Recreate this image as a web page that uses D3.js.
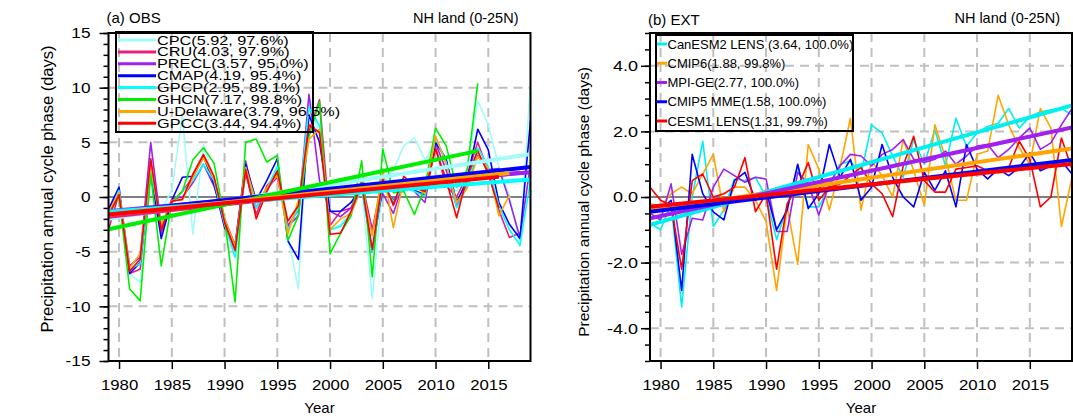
<!doctype html>
<html lang="en">
<head>
<meta charset="utf-8">
<script src="https://d3js.org/d3.v7.min.js"></script>
<style>
  body { margin: 0; background: #fff; }
  svg text { font-family: "Liberation Sans", Arial, sans-serif; fill: #000; }
</style>
</head>
<body>
<div id="chart"></div>
<script>
// ---------- (a) OBS : annual values from 1979 ----------
const obsNames  = ["CPC", "CRU", "PRECL", "CMAP", "GPCP", "GHCN", "U-Delaware", "GPCC"];
const obsColors = ["#a0fcfc", "#ea1f7d", "#a020f0", "#0000ff", "#00ffff", "#00ee00", "#ffa500", "#ff0000"];
const obsChange = [5.92, 4.03, 3.57, 4.19, 2.95, 7.17, 3.79, 3.44];
const obsSig    = [97.6, 97.9, 95.0, 95.4, 89.1, 98.8, 96.5, 94.4];
const obsTrendStart = [-2.0, -1.8, -1.3, -1.45, -1.35, -2.95, -1.6, -1.6];

const cpc   = [-1.0, 0.5, -7.0, -7.8, 2.0, -1.2, 0.6, 7.5, -3.4, 4.8, 1.5, -1.8, -5.5, 2.3, -1.7, 0.3, 2.5, -3.6, -8.4, 9.3,
               5.5, -3.0, -2.5, -1.3, 1.0, -9.3, 1.3, 2.5, 4.7, 5.4, 3.4, 5.0, 1.5, 0.5, 2.5, 8.8, 6.6, 2.8, 0.1, -4.5, 10.5];
const cru   = [-3.0, 0.3, -7.0, -6.6, 3.3, -3.3, -0.4, 0.5, 1.8, 3.7, 1.6, -2.1, -4.6, 2.2, -1.6, 1.0, 2.2, -2.6, -1.2, 6.0,
               8.9, -2.6, -1.3, -1.0, 1.5, -3.0, 1.8, -0.8, 1.5, 1.2, 0.6, 4.5, 1.0, 0.0, 2.0, 5.0, 2.3, -1.2, -3.7, -3.3];
const precl = [-1.2, 0.5, -6.3, -5.5, 5.0, -2.8, -0.2, 0.0, 1.3, 3.0, 1.0, -2.0, -4.4, 3.3, -1.0, 0.8, 1.8, -2.7, -1.7, 9.4,
               1.5, -1.3, -1.8, -1.0, 0.8, -3.0, 0.3, -1.5, 1.4, 0.5, -0.5, 4.9, 2.5, -0.9, 1.2, 3.8, 2.5, 2.6, -0.3, -3.7, 3.0];
const cmap  = [-1.1, 0.9, -7.0, -6.0, 2.2, -3.8, -0.3, 1.8, 1.9, 3.7, 1.2, -2.8, -4.5, 3.0, -0.3, 1.5, 3.5, -4.0, -5.7, 7.5,
               5.0, -1.3, -1.3, -0.5, 1.0, -5.0, 1.0, -0.3, 0.9, 0.6, 0.2, 5.0, 3.5, -0.5, 1.6, 6.2, 4.3, -0.5, -2.5, -3.8, 7.0];
const gpcp  = [-1.6, 0.6, -6.6, -6.1, 2.3, -2.5, -0.5, 0.5, 1.5, 3.0, 1.5, -2.5, -5.5, 2.7, -1.0, 0.7, 2.8, -3.0, -1.0, 8.2,
               6.5, -3.0, -2.7, -1.5, 0.8, -5.0, 1.2, -0.4, 1.0, 0.5, 0.1, 5.5, 3.2, -1.0, 1.0, 4.5, 2.8, -0.8, -3.0, -4.4, 1.5];
const ghcn  = [-1.5, 0.0, -8.4, -9.5, 2.1, -6.3, -0.5, 0.5, 3.4, 4.5, 3.1, -2.0, -9.6, 5.0, 5.3, 3.2, 3.8, -4.0, -1.7, 5.5,
               8.7, -5.2, -3.3, -1.7, 3.3, -7.3, 4.4, 0.4, 0.5, -1.6, 0.9, 6.3, 4.7, 0.9, 2.5, 10.4];
const udel  = [-1.4, 0.4, -6.5, -5.2, 3.0, -2.6, -0.3, -0.3, 1.8, 3.6, 1.7, -2.0, -4.5, 2.7, -0.5, 0.8, 2.0, -3.4, -0.3, 5.3,
               6.2, -3.0, -2.0, -1.5, 1.0, -3.5, 2.5, -2.8, 1.6, 1.0, 0.3, 5.6, 3.0, -0.5, 0.8, 3.7, 2.6, -1.7, 0.15];
const gpcc  = [-1.7, 0.2, -6.8, -5.7, 3.5, -3.0, -0.4, -0.2, 2.1, 3.9, 1.9, -2.3, -4.9, 2.5, -2.0, 0.5, 2.4, -2.2, -0.8, 6.6,
               5.9, -3.4, -3.3, -1.3, 1.2, -4.8, 1.6, -0.7, 1.9, 0.9, 0.5, 4.4, 1.6, -1.9, 1.9, 4.2, 2.1, -1.0];
const obsValues = [cpc, cru, precl, cmap, gpcp, ghcn, udel, gpcc];

// ---------- (b) EXT : annual values 1979-2019 ----------
const extNames  = ["CanESM2 LENS ", "CMIP6", "MPI-GE", "CMIP5 MME", "CESM1 LENS"];
const extColors = ["#00f0f0", "#ffa500", "#a020f0", "#0000ff", "#ff0000"];
const extChange = [3.64, 1.88, 2.77, 1.58, 1.31];
const extSig    = [100.0, 99.8, 100.0, 100.0, 99.7];
const extTrendStart = [-0.85, -0.4, -0.65, -0.45, -0.3];

const canesm2 = [-0.8, -1.0, -0.2, -3.35, 0.0, 1.7, -0.9, -0.4, 0.55, 0.5, 0.6, 0.0, -1.3, -0.3, 0.95, -0.3, -0.3, 0.3, 1.0, 1.1,
                 0.7, 2.2, 1.95, 1.25, 0.6, 1.75, 1.0, 2.05, 0.95, 2.4, 1.55, 1.95, 2.15, 2.25, 2.7, 2.1, 2.45, 2.6, 2.65, 2.7, 2.5];
const cmip6   = [-0.2, -0.3, 0.1, 0.3, 0.1, 0.7, 1.3, -0.45, 0.3, 0.3, -0.1, -0.75, -2.85, -0.3, -2.05, 1.6, 0.85, -0.4, 0.9, 2.4,
                 -0.4, 1.1, 0.65, 0.0, 1.75, 0.8, -0.25, 2.2, 1.2, -0.1, -0.1, 1.3, 1.4, 3.1, 2.2, 1.5, 1.0, 2.7, 2.1, -0.9, 0.6];
const mpige   = [-0.5, -0.7, 0.4, -1.75, -0.65, -0.7, 0.3, 0.85, 0.65, 0.45, 0.6, 0.55, -1.05, -1.05, 0.75, 0.4, -0.55, 0.4, 0.95, 1.3,
                 1.25, 0.95, 1.3, 1.45, 1.75, 1.15, 1.05, 1.15, 1.4, 1.0, 1.25, 1.55, 1.6, 1.2, 1.45, 1.8, 2.1, 1.45, 1.65, 2.2, 2.7];
const cmip5   = [-0.45, -0.4, -0.1, -2.85, 1.3, 0.1, -0.45, -0.7, 0.5, 0.75, -0.1, 0.2, -1.0, -0.4, 1.0, -0.35, 0.1, 1.6, 0.6, 1.15,
                 -0.1, 0.3, 1.6, 0.6, 0.0, -0.3, 0.75, 0.2, 0.8, -0.3, 1.6, 0.85, 0.55, 0.85, 0.65, 0.9, 1.35, 0.8, 0.95, 1.1, 0.7];
const cesm1   = [0.3, -0.1, -0.25, -2.2, 0.5, 0.7, 0.0, 0.1, 0.3, 1.2, -0.45, 0.1, -2.2, -0.2, 0.3, 1.05, -0.1, 0.3, 0.4, 0.65,
                 0.9, 0.4, 0.1, -0.6, 0.95, 1.85, 0.5, 0.15, 0.15, 0.85, 0.9, 0.95, 0.8, 0.75, 0.9, 1.7, 1.15, -0.3, 0.0, 1.8, 0.85];
const extValues = [canesm2, cmip6, mpige, cmip5, cesm1];

const firstYear = 1979;
const yearTicks = [1980, 1985, 1990, 1995, 2000, 2005, 2010, 2015];
const ylabel = "Precipitation annual cycle phase (days)";

const svg = d3.select("#chart").append("svg")
    .attr("width", 1073)
    .attr("height", 416);

const plotTop = 33, plotBottom = 361;

function drawPanel(p) {
    const g = svg.append("g");
    const x = d3.scaleLinear().domain([1979, 2019]).range([p.left, p.right]);
    const y = d3.scaleLinear().domain(p.yDomain).range([plotBottom, plotTop]);

    svg.append("clipPath").attr("id", "clip" + p.id)
        .append("rect")
        .attr("x", p.left).attr("y", plotTop)
        .attr("width", p.right - p.left).attr("height", plotBottom - plotTop);

    // dashed grid
    g.selectAll(".vg").data(yearTicks).join("line")
        .attr("x1", d => x(d)).attr("x2", d => x(d))
        .attr("y1", plotTop).attr("y2", plotBottom)
        .attr("stroke", "#c0c0c0").attr("stroke-width", 2).attr("stroke-dasharray", "9,6");
    g.selectAll(".hg").data(p.yTicks.filter(v => v !== 0)).join("line")
        .attr("x1", p.left).attr("x2", p.right)
        .attr("y1", d => y(d)).attr("y2", d => y(d))
        .attr("stroke", "#c0c0c0").attr("stroke-width", 2).attr("stroke-dasharray", "9,6");

    // zero line
    g.append("line")
        .attr("x1", p.left).attr("x2", p.right)
        .attr("y1", y(0)).attr("y2", y(0))
        .attr("stroke", "#000").attr("stroke-width", 1);

    const plot = g.append("g").attr("clip-path", "url(#clip" + p.id + ")");
    const line = d3.line()
        .x((d, i) => x(firstYear + i))
        .y(d => y(d));

    // yearly series
    p.values.forEach((vals, k) => {
        plot.append("path")
            .datum(vals)
            .attr("fill", "none")
            .attr("stroke", p.colors[k])
            .attr("stroke-width", 1.6)
            .attr("stroke-linejoin", "round")
            .attr("d", line);
    });

    // linear trends
    p.values.forEach((vals, k) => {
        const endYear = firstYear + vals.length - 1;
        const pts = [[firstYear, p.trendStart[k]], [endYear, p.trendStart[k] + p.change[k]]];
        plot.append("path")
            .datum(pts)
            .attr("fill", "none")
            .attr("stroke", p.colors[k])
            .attr("stroke-width", 4)
            .attr("d", d3.line().x(d => x(d[0])).y(d => y(d[1])));
    });

    // frame
    g.append("rect")
        .attr("x", p.left).attr("y", plotTop)
        .attr("width", p.right - p.left).attr("height", plotBottom - plotTop)
        .attr("fill", "none").attr("stroke", "#000").attr("stroke-width", 2);

    // axes
    const xa = g.append("g").attr("transform", "translate(0," + plotBottom + ")")
        .call(d3.axisBottom(x).tickValues(yearTicks).tickSize(8).tickPadding(10).tickFormat(d => String(d)));
    const ya = g.append("g").attr("transform", "translate(" + p.left + ",0)")
        .call(d3.axisLeft(y).tickValues(p.yTicks).tickSize(9).tickPadding(p.tickPad).tickFormat(p.fmt));
    const ym = g.append("g").attr("transform", "translate(" + p.left + ",0)")
        .call(d3.axisLeft(y).tickValues(p.yMinor).tickSize(5).tickFormat(""));
    [xa, ya, ym].forEach(a => {
        a.select(".domain").remove();
        a.selectAll("line").attr("stroke", "#000").attr("stroke-width", 1.5);
        a.selectAll("text").attr("font-size", 15).attr("font-family", "Liberation Sans, Arial, sans-serif");
    });
    // the original lettering is a little wider than Liberation Sans
    xa.selectAll("text").attr("transform", "scale(1.12,1)");
    ya.selectAll("text")
        .attr("transform", "scale(" + p.labScale + ",1)")
        .attr("x", -(9 + p.tickPad) / p.labScale);

    // axis titles
    g.append("text")
        .attr("x", (p.left + p.right) / 2).attr("y", 413)
        .attr("text-anchor", "middle").attr("font-size", 15)
        .text("Year");
    g.append("text")
        .attr("transform", "translate(" + p.ylabX + "," + p.ylabY + ") rotate(-90)")
        .attr("text-anchor", "middle").attr("font-size", p.ylabSize)
        .text(ylabel);

    // panel titles
    g.append("text").attr("x", p.left - 2).attr("y", p.titleY)
        .attr("font-size", 15).text(p.title);
    g.append("text").attr("x", p.right - 12).attr("y", 23)
        .attr("text-anchor", "end").attr("font-size", 14.5).text("NH land (0-25N)");

    // legend
    const L = p.legend;
    g.append("rect")
        .attr("x", L.x).attr("y", L.y).attr("width", L.w).attr("height", L.h)
        .attr("fill", "none").attr("stroke", "#000").attr("stroke-width", 2);
    p.names.forEach((name, k) => {
        const ry = L.row0 + k * L.step;
        g.append("line")
            .attr("x1", L.lx0).attr("x2", L.lx1)
            .attr("y1", ry).attr("y2", ry)
            .attr("stroke", p.colors[k]).attr("stroke-width", 3);
        g.append("text")
            .attr("transform", "translate(" + L.tx + "," + (ry + 4.5) + ") scale(" + L.sx + ",1)")
            .attr("font-size", L.size)
            .text(name + "(" + p.change[k].toFixed(2) + ", " + p.sig[k].toFixed(1) + "%)");
    });
}

drawPanel({
    id: "a", left: 108.5, right: 530.5,
    yDomain: [-15, 15], yTicks: d3.range(-15, 16, 5), yMinor: d3.range(-15, 16, 1),
    fmt: d => String(d), tickPad: 9, labScale: 1.15,
    values: obsValues, colors: obsColors, names: obsNames,
    change: obsChange, sig: obsSig, trendStart: obsTrendStart,
    title: "(a) OBS", titleY: 23,
    ylabX: 53, ylabY: 189, ylabSize: 16.5,
    legend: { x: 116, y: 32, w: 197, h: 100, row0: 40, step: 11.9, lx0: 118, lx1: 156, tx: 157, size: 12.5, sx: 1.3 }
});

drawPanel({
    id: "b", left: 650, right: 1072,
    yDomain: [-5, 5], yTicks: [-4, -2, 0, 2, 4], yMinor: d3.range(-5, 5.01, 0.5),
    fmt: d => d.toFixed(1), tickPad: 3, labScale: 1.2,
    values: extValues, colors: extColors, names: extNames,
    change: extChange, sig: extSig, trendStart: extTrendStart,
    title: "(b) EXT", titleY: 25,
    ylabX: 589, ylabY: 202, ylabSize: 15.5,
    legend: { x: 656, y: 35, w: 197, h: 96, row0: 44, step: 19.25, lx0: 657, lx1: 667, tx: 667.5, size: 13, sx: 1 }
});
</script>
</body>
</html>
